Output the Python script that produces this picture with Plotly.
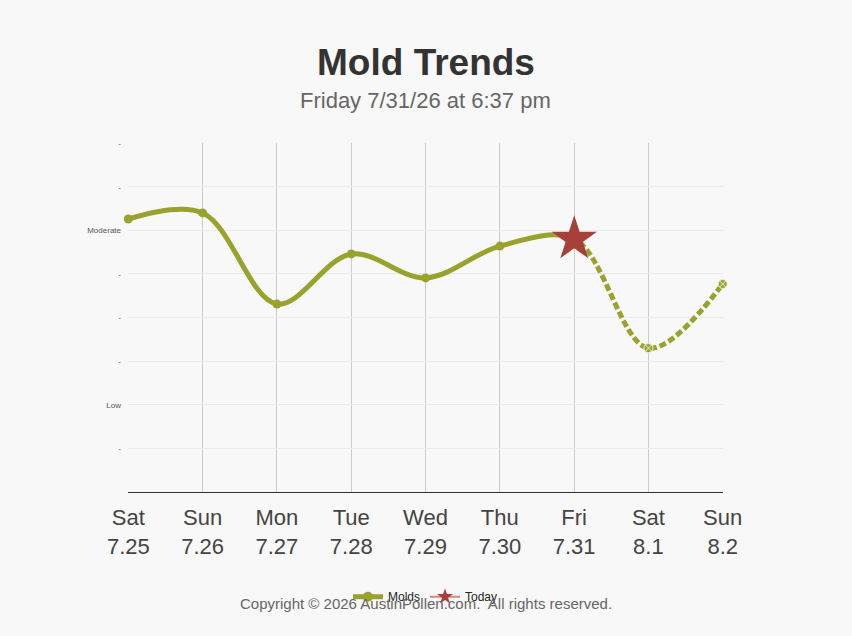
import plotly.graph_objects as go

# ---- data ----
DAYS = ["Sat", "Sun", "Mon", "Tue", "Wed", "Thu", "Fri", "Sat", "Sun"]
DATES = ["7.25", "7.26", "7.27", "7.28", "7.29", "7.30", "7.31", "8.1", "8.2"]
MOLD_LEVEL = [6.26, 6.40, 4.31, 5.46, 4.91, 5.64, 5.80, 3.30, 4.77]
TODAY_INDEX = 6

Y_TICKVALS = [1, 2, 3, 4, 5, 6, 7, 8]
Y_TICKTEXT = ["-", "Low", "-", "-", "-", "Moderate", "-", "-"]

OLIVE = "#99a22c"
STAR_RED = "#a8403a"

x_idx = list(range(len(DAYS)))
tick_text = [f"{d}<br>{t}" for d, t in zip(DAYS, DATES)]
n_last = len(DAYS) - 1
split = TODAY_INDEX / n_last  # domain fraction where forecast starts
PAD = 0.004  # tiny pad so the edge gridlines are drawn

fig = go.Figure()

# invisible trace on the main axis (holds grid + ticks)
fig.add_trace(go.Scatter(
    x=x_idx, y=MOLD_LEVEL, mode="lines", line=dict(width=0),
    showlegend=False, hoverinfo="skip", opacity=0,
))

# full-series spline, solid, clipped to the observed days (x2 subplot)
fig.add_trace(go.Scatter(
    x=x_idx, y=MOLD_LEVEL, xaxis="x2",
    mode="lines",
    line=dict(color=OLIVE, width=5, shape="spline", smoothing=1.0),
    showlegend=False, hoverinfo="skip",
))
# observed markers
fig.add_trace(go.Scatter(
    x=x_idx[:TODAY_INDEX], y=MOLD_LEVEL[:TODAY_INDEX], xaxis="x2",
    mode="markers", marker=dict(color=OLIVE, size=9),
    showlegend=False, hoverinfo="skip", cliponaxis=False,
))

# full-series spline, dashed, clipped to the forecast days (x3 subplot)
fig.add_trace(go.Scatter(
    x=x_idx, y=MOLD_LEVEL, xaxis="x3",
    mode="lines",
    line=dict(color=OLIVE, width=5, dash="7px,3px", shape="spline", smoothing=1.0),
    showlegend=False, hoverinfo="skip",
))
# forecast markers
fig.add_trace(go.Scatter(
    x=x_idx[TODAY_INDEX + 1:], y=MOLD_LEVEL[TODAY_INDEX + 1:], xaxis="x3",
    mode="markers",
    marker=dict(color=OLIVE, size=9, symbol="circle-x",
                line=dict(color="#f0f0d8", width=1)),
    showlegend=False, hoverinfo="skip", cliponaxis=False,
))
# today star
fig.add_trace(go.Scatter(
    x=[x_idx[TODAY_INDEX]], y=[MOLD_LEVEL[TODAY_INDEX]], xaxis="x3",
    mode="markers",
    marker=dict(color=STAR_RED, size=34, symbol="star", line=dict(width=0)),
    showlegend=False, hoverinfo="skip", cliponaxis=False,
))

# legend proxies
fig.add_trace(go.Scatter(
    x=[None], y=[None], mode="lines+markers", name="Molds",
    line=dict(color=OLIVE, width=5),
    marker=dict(color=OLIVE, size=10),
))
fig.add_trace(go.Scatter(
    x=[None], y=[None], mode="lines+markers", name="Today",
    line=dict(color="#d98880", width=2),
    marker=dict(color=STAR_RED, size=12, symbol="star"),
))

fig.update_layout(
    width=852, height=636,
    paper_bgcolor="#f8f8f8", plot_bgcolor="rgba(0,0,0,0)",
    font=dict(family="Liberation Sans, Arial, sans-serif", color="#444"),
    margin=dict(l=128, r=129, t=143, b=144),
    title=dict(
        text="<b>Mold Trends</b>", x=0.5, xanchor="center",
        y=1 - 62 / 636, yanchor="middle",
        font=dict(size=37, color="#333"),
    ),
    legend=dict(
        orientation="h", x=0.5, xanchor="center",
        y=-0.30, yanchor="middle",
        font=dict(size=12, color="#222"),
        bgcolor="rgba(0,0,0,0)",
        itemwidth=30,
    ),
    xaxis=dict(
        domain=[0, 1], range=[-PAD, n_last + PAD],
        tickmode="array", tickvals=x_idx, ticktext=tick_text,
        tickfont=dict(size=22, color="#444"),
        showgrid=True, gridcolor="#cccccc", gridwidth=1,
        showline=True, linecolor="#333", linewidth=1,
        zeroline=False, ticks="",
        ticklabelstandoff=6,
    ),
    xaxis2=dict(domain=[0, split], range=[-PAD, TODAY_INDEX], anchor="y",
                visible=False, showgrid=False, zeroline=False),
    xaxis3=dict(domain=[split, 1], range=[TODAY_INDEX, n_last + PAD], anchor="y",
                visible=False, showgrid=False, zeroline=False),
    yaxis=dict(
        range=[0, 8.004],
        tickmode="array", tickvals=Y_TICKVALS, ticktext=Y_TICKTEXT,
        tickfont=dict(size=8, color="#555"),
        showgrid=True, gridcolor="#ebebeb", gridwidth=1,
        zeroline=False, showline=False, ticks="",
        ticklabelstandoff=6,
    ),
    annotations=[
        dict(text="Friday 7/31/26 at 6:37 pm", xref="paper", yref="paper",
             x=0.5, y=(492 - 100) / 349, xanchor="center", yanchor="middle",
             showarrow=False, font=dict(size=22, color="#666")),
        dict(text="Copyright © 2026 AustinPollen.com.  All rights reserved.",
             xref="paper", yref="paper",
             x=0.5, y=(492 - 603) / 349, xanchor="center", yanchor="middle",
             showarrow=False, font=dict(size=15, color="#666")),
    ],
)

fig.write_html(
    "out.html",
    config={"displayModeBar": False},
    post_script="document.body.style.margin='0';document.body.style.overflow='hidden';",
)
